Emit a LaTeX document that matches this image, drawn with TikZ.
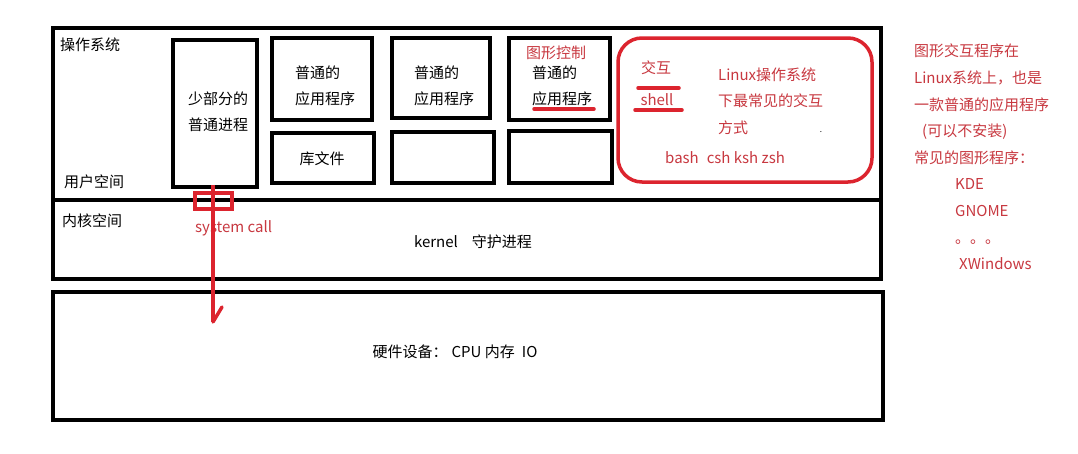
\documentclass[tikz,border=0pt]{standalone}
\usepackage{fontspec}
\setmainfont{Noto Sans CJK SC}
\definecolor{pen}{RGB}{220,36,46}
\definecolor{ink}{RGB}{200,56,64}

\begin{document}
\begin{tikzpicture}[x=1pt,y=-1pt,
    box/.style={draw,line width=4pt,inner sep=0pt},
    txt/.style={font=\fontsize{15}{26.5}\selectfont,inner sep=0pt,align=left},
    rtxt/.style={txt,text=ink},
    redline/.style={draw=pen,line width=3.5pt,line cap=round}]
    \useasboundingbox[fill=white](0,0) rectangle (1078,453);

    % user space, kernel space, hardware
    \node[box,minimum width=828,minimum height=172] (user) at (467,114) {};
    \node[box,minimum width=828,minimum height=79] (kern) at (467,239.5) {};
    \node[box,minimum width=830,minimum height=128] (hw) at (468,356) {};

    \node[txt,anchor=west] (os) at (60,45) {操作系统};
    \node[txt,anchor=west] (userlbl) at (64,182) {用户空间};
    \node[txt,anchor=west] (kernlbl) at (62,221) {内核空间};
    \node[txt] (kerntxt) at (473,242) {kernel\hspace{14pt}守护进程};
    \node[txt] (hwtxt) at (455,352) {硬件设备：\hspace{4pt}CPU 内存\hspace{7pt}IO};

    % processes and applications
    \node[box,minimum width=84,minimum height=147] (proc) at (215,113.5) {};
    \node[txt] (proctxt) at (218,112) {少部分的\\普通进程};

    \node[box,minimum width=100,minimum height=82] (app1) at (322,79) {};
    \node[txt] (app1txt) at (325,86) {普通的\\应用程序};
    \node[box,minimum width=102,minimum height=50] (lib) at (323,158) {};
    \node[txt] (libtxt) at (322,159) {库文件};

    \node[box,minimum width=98,minimum height=80] (app2) at (441,78) {};
    \node[txt] (app2txt) at (444,86) {普通的\\应用程序};
    \node[box,minimum width=102,minimum height=51] (empty2) at (443,157.5) {};

    \node[box,minimum width=101,minimum height=82] (app3) at (559.5,79) {};
    \node[rtxt] (gfx) at (556,53) {图形控制};
    \node[txt] (app3txt) at (562,86) {普通的\\应用程序};
    \coordinate (ulA) at (534,109);
    \coordinate (ulB) at (594,109);
    \draw[redline] (ulA) -- (ulB);
    \node[box,minimum width=103,minimum height=52] (empty3) at (560.5,157) {};

    % shell
    \node[draw=pen,line width=3.5pt,rounded corners=24pt,minimum width=254,minimum height=144] (shellbox) at (745,110) {};
    \node[rtxt] (inter) at (656,68) {交互};
    \node[rtxt] (shell) at (657,100) {shell};
    \coordinate (s1) at (638,88);
    \coordinate (s2) at (679,88);
    \coordinate (s3) at (635,110);
    \coordinate (s4) at (682,110);
    \draw[redline] (s1) -- (s2);
    \draw[redline] (s3) -- (s4);
    \node[rtxt,anchor=west] (shelldesc) at (718,101) {Linux操作系统\\下最常见的交互\\方式};
    \node[font=\fontsize{8}{8}\selectfont,inner sep=0pt] (dot) at (821,132) {.};
    \node[rtxt,anchor=west] (shells) at (665,158) {bash\hspace{8pt}csh ksh zsh};

    % system call
    \node[rtxt,anchor=west] (calltxt) at (195,228) {system call};
    \node[draw=pen,line width=3.5pt,minimum width=37,minimum height=16,inner sep=0pt] (gate) at (213.5,201) {};
    \coordinate (callTop) at (213,185);
    \coordinate (callEnd) at (213,322);
    \coordinate (barb) at (222,307);
    \draw[redline,line cap=butt] (callTop) -- (callEnd);
    \draw[redline] (callEnd) -- (barb);

    % graphical programs
    \node[rtxt,anchor=north west,font=\fontsize{15}{26.6}\selectfont] (gui) at (914,44)
        {图形交互程序在\\Linux系统上，也是\\一款普通的应用程序\\\hspace*{8pt}(可以不安装)\\常见的图形程序：\\\hspace*{41pt}KDE\\\hspace*{41pt}GNOME\\\hspace*{41pt}。。。\\\hspace*{45pt}XWindows};
\end{tikzpicture}
\end{document}
